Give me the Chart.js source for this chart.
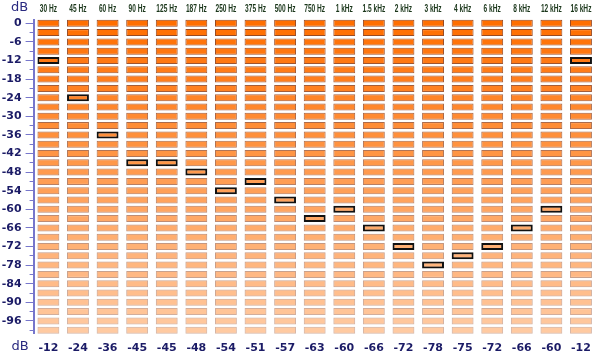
<!DOCTYPE html>
<html><head><meta charset="utf-8">
<script src="https://cdn.jsdelivr.net/npm/chart.js@4/dist/chart.umd.min.js"></script>
<style>html,body{margin:0;padding:0;background:#fff}</style>
</head><body>
<canvas id="c" width="599" height="357"></canvas>
<script>
const frequencies = ['30 Hz','45 Hz','60 Hz','90 Hz','125 Hz','187 Hz','250 Hz','375 Hz','500 Hz','750 Hz','1 kHz','1.5 kHz','2 kHz','3 kHz','4 kHz','6 kHz','8 kHz','12 kHz','16 kHz'];
const bandValues = [-12,-24,-36,-45,-45,-48,-54,-51,-57,-63,-60,-66,-72,-78,-75,-72,-66,-60,-12];
const levels = [0,-3,-6,-9,-12,-15,-18,-21,-24,-27,-30,-33,-36,-39,-42,-45,-48,-51,-54,-57,-60,-63,-66,-69,-72,-75,-78,-81,-84,-87,-90,-93,-96,-99];
const valueLabels = bandValues.map(String);

const CELL_HALF = 1.13;
const navy = '#1b1b66';
const axisBlue = '#7676cc';

const datasets = levels.map((lvl, i) => {
  const a = 1 - 0.63 * i / (levels.length - 1);
  const ba = 1 - 0.6 * i / (levels.length - 1);
  const fill = `rgba(255,110,0,${a.toFixed(3)})`;
  const edge = `rgba(150,70,30,${ba.toFixed(3)})`;
  return {
    label: String(lvl),
    data: frequencies.map(() => [lvl - CELL_HALF, lvl + CELL_HALF]),
    backgroundColor: fill,
    borderColor: ctx => bandValues[ctx.dataIndex] === lvl ? '#111111' : edge,
    borderWidth: ctx => bandValues[ctx.dataIndex] === lvl ? 2 : 1,
    borderSkipped: false,
    grouped: false,
    barPercentage: 0.74,
    categoryPercentage: 1,
    clip: false,
    xAxisID: 'x',
    yAxisID: 'y'
  };
});

// Frequency labels along the top axis, drawn in a condensed bold face
const freqLabels = {
  id: 'freqLabels',
  afterDraw(chart) {
    const c = chart.ctx;
    const sx = chart.scales.x;
    c.save();
    c.font = 'bold 11px "Liberation Sans", Arial, sans-serif';
    c.fillStyle = '#1a361a';
    c.textAlign = 'center';
    c.textBaseline = 'middle';
    frequencies.forEach((f, i) => {
      const x = sx.getPixelForValue(i);
      c.save();
      c.translate(x, 8.5);
      c.scale(0.6, 1);
      c.fillText(f, 0, 0);
      c.restore();
    });
    c.restore();
  }
};

const dbLabels = {
  id: 'dbLabels',
  afterDraw(chart) {
    const c = chart.ctx;
    c.save();
    c.font = '13px "DejaVu Sans", sans-serif';
    c.fillStyle = '#2a2a80';
    c.textAlign = 'center';
    c.textBaseline = 'middle';
    c.fillText('dB', 19.5, 8);
    c.fillText('dB', 20, 347);
    c.restore();
  }
};

new Chart(document.getElementById('c'), {
  type: 'bar',
  data: { labels: frequencies, datasets },
  options: {
    responsive: false,
    animation: false,
    events: [],
    layout: { padding: 0 },
    plugins: { legend: { display: false }, tooltip: { enabled: false } },
    scales: {
      x: {
        type: 'category',
        position: 'top',
        offset: true,
        grid: { display: false, drawTicks: false },
        border: { display: false },
        ticks: { display: false },
        afterFit(s) { s.height = 19.6; }
      },
      xb: {
        type: 'category',
        position: 'bottom',
        labels: valueLabels,
        offset: true,
        grid: { display: false, drawTicks: false },
        border: { display: false },
        ticks: {
          autoSkip: false, maxRotation: 0, padding: 8,
          color: navy,
          font: { family: '"DejaVu Sans", sans-serif', size: 11, weight: 'bold' }
        },
        afterFit(s) { s.height = 23.7; }
      },
      y: {
        type: 'linear',
        position: 'left',
        weight: 1,
        min: -100, max: 1.2,
        grid: { display: true, drawOnChartArea: false, drawTicks: true, tickLength: 8, color: axisBlue, lineWidth: 1 },
        border: { display: true, color: axisBlue, width: 2 },
        ticks: {
          stepSize: 6, includeBounds: false, padding: 4,
          color: navy,
          font: { family: '"DejaVu Sans", sans-serif', size: 11, weight: 'bold' }
        },
        afterFit(s) { s.width = 33.6; }
      },
      y2: {
        type: 'linear',
        position: 'left',
        weight: 0,
        min: -100, max: 1.2,
        grid: { display: true, drawOnChartArea: false, drawTicks: true, tickLength: 4, color: axisBlue, lineWidth: 1 },
        border: { display: false },
        ticks: { stepSize: 3, includeBounds: false, display: true, callback: () => '', padding: 0 },
        afterFit(s) { s.width = 0; }
      }
    }
  },
  plugins: [freqLabels, dbLabels]
});
</script>
</body></html>
